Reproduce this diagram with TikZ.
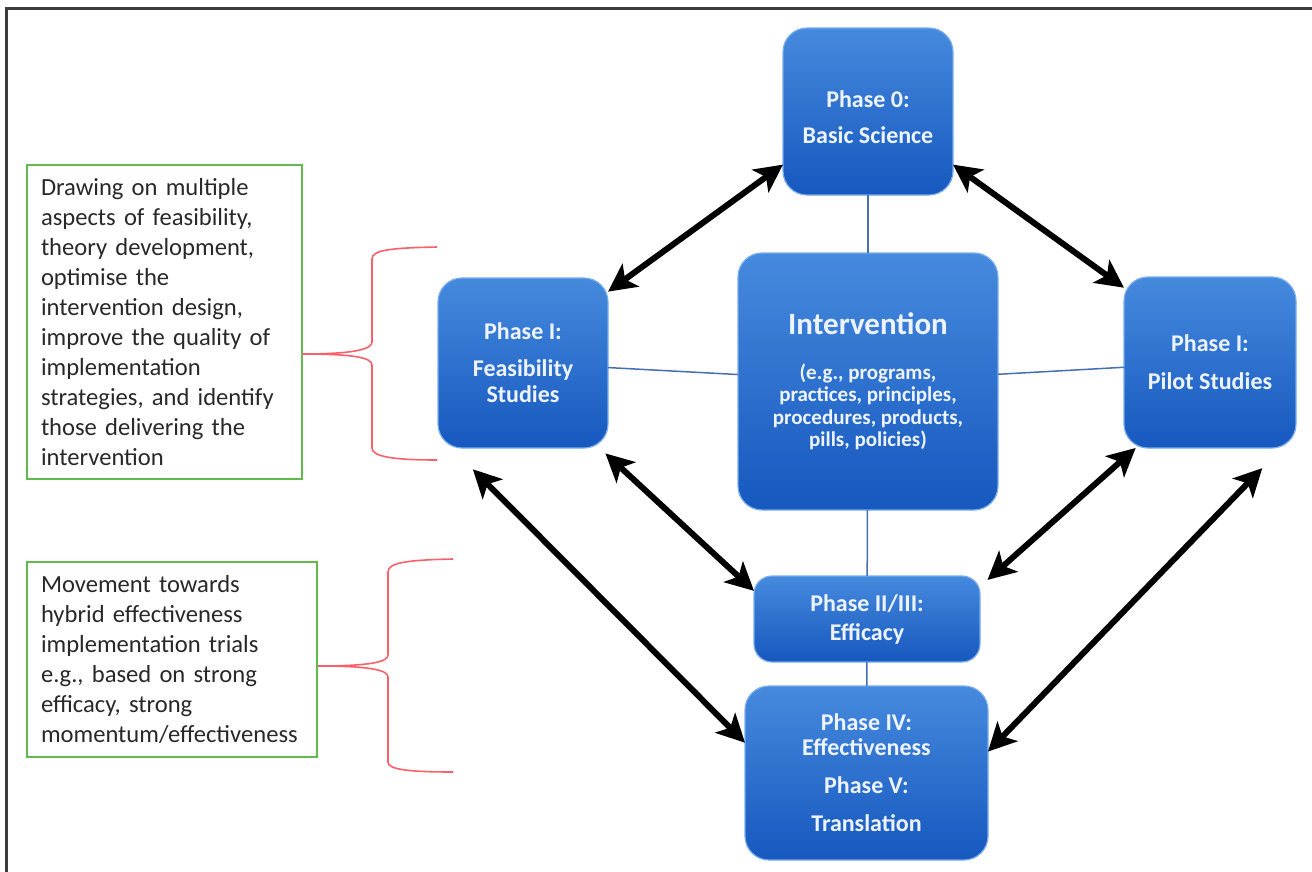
\documentclass[tikz,border=0pt]{standalone}
\usepackage{fontspec}
\setmainfont{Carlito}
\usetikzlibrary{arrows.meta}

\definecolor{boxtop}{RGB}{70,138,222}
\definecolor{boxbot}{RGB}{22,88,190}
\definecolor{boxrim}{RGB}{120,172,238}
\definecolor{boxtext}{RGB}{238,244,255}
\definecolor{linkblue}{RGB}{70,110,182}
\definecolor{notegreen}{RGB}{96,186,76}
\definecolor{bracered}{RGB}{250,96,106}
\definecolor{notetext}{RGB}{40,40,40}
\definecolor{framegray}{RGB}{60,60,60}

\begin{document}
\begin{tikzpicture}[x=0.5pt,y=-0.5pt,
	phase/.style={rounded corners=12pt,top color=boxtop,bottom color=boxbot,draw=boxrim,line width=0.6pt,
		inner sep=0pt,outer sep=0pt,align=center,text=boxtext,font=\bfseries\fontsize{12}{13}\selectfont},
	note/.style={draw=notegreen,line width=1pt,align=left,inner xsep=7pt,inner ysep=0pt,anchor=north west,
		text=notetext,font=\fontsize{12.3}{15}\selectfont},
	dbl/.style={{Stealth[length=14pt,width=14pt,inset=3.5pt]}-{Stealth[length=14pt,width=14pt,inset=3.5pt]},line width=3pt},
	link/.style={draw=linkblue,line width=0.75pt},
	brace/.style={draw=bracered,line width=0.8pt}
	]
	\useasboundingbox (0,0) rectangle (1312,872);
	\draw[framegray,line width=1.2pt] (6.5,872) -- (6.5,8.5) -- (1312,8.5);

	% phases
	\node[phase,minimum width=85pt,minimum height=83.5pt] (basic) at (868,111.5) {\rule{0pt}{14pt}Phase 0:\\[5pt]Basic Science};
	\node[phase,minimum width=85pt,minimum height=85pt] (feas) at (523,363) {Phase I:\\[5.5pt]Feasibility\\Studies};
	\node[phase,minimum width=130pt,minimum height=128.5pt,font=\bfseries\fontsize{10.5}{11.25}\selectfont] (interv) at (868,381.5)
		{{\fontsize{15.5}{16}\selectfont Intervention}\\[11pt](e.g., programs,\\practices, principles,\\procedures, products,\\pills, policies)};
	\node[phase,minimum width=86pt,minimum height=85.5pt] (pilot) at (1210,362.5) {Phase I:\\[6pt]Pilot Studies};
	\node[phase,rounded corners=9pt,minimum width=113pt,minimum height=43pt] (effic) at (867,619) {Phase II/III:\\[1.5pt]Efficacy};
	\node[phase,minimum width=121.5pt,minimum height=87pt] (eff4) at (866.5,773) {Phase IV:\\[-0.5pt]Effectiveness\\[6pt]Phase V:\\[6pt]Translation};

	% notes
	\node[note,text width=123.5pt,minimum height=157pt] (note1) at (26,164)
		{Drawing on multiple\\aspects of feasibility,\\theory development,\\optimise the\\intervention design,\\improve the quality of\\implementation\\strategies, and identify\\those delivering the\\intervention};
	\node[note,text width=131pt,minimum height=97.5pt] (note2) at (26,561)
		{Movement towards\\hybrid effectiveness\\implementation trials\\e.g., based on strong\\efficacy, strong\\momentum/effectiveness};

	\draw[brace] (437,247) .. controls (390,248) and (372,250) .. (372,259) -- (372,342)
		.. controls (372,350) and (350,354) .. (302,354) .. controls (350,354) and (372,357) .. (372,365)
		-- (372,448) .. controls (372,456) and (390,460) .. (437,460);
	\draw[brace] (453,559) .. controls (405,560) and (388,563) .. (388,572) -- (388,655)
		.. controls (388,662) and (370,666) .. (318,666) .. controls (370,666) and (388,670) .. (388,677)
		-- (388,762) .. controls (388,769) and (405,772) .. (453,772);

	% thin links
	\draw[link] (basic) -- (interv);
	\draw[link] (feas) -- (interv);
	\draw[link] (interv) -- (pilot);
	\draw[link] (interv) -- (effic);
	\draw[link] (effic) -- (eff4);

	% arrows
	\draw[dbl] (feas.40) -- (basic.212);
	\draw[dbl] (basic.328) -- (pilot.139);
	\draw[dbl,shorten <=4pt] (feas.312) -- (effic.166);
	\draw[dbl,shorten >=5pt] (pilot.229) -- (effic.16);
	\draw[dbl,shorten <=15pt] (feas.230) -- (eff4.166);
	\draw[dbl,shorten <=14pt] (pilot.310) -- (eff4.10);
\end{tikzpicture}
\end{document}
